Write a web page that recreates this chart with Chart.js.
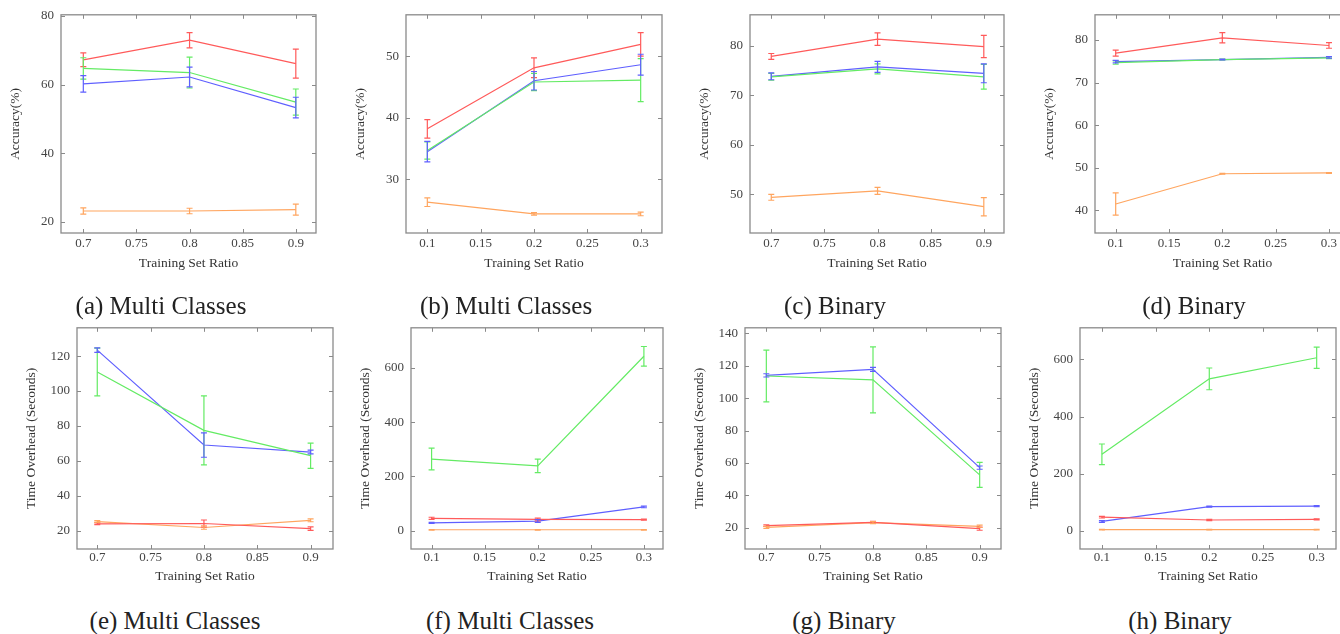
<!DOCTYPE html>
<html>
<head>
<meta charset="utf-8">
<script src="https://cdn.jsdelivr.net/npm/chart.js"></script>
<style>
  html, body { margin: 0; padding: 0; background: #fff; overflow: hidden; }
  body { width: 1340px; height: 634px; position: relative; }
  canvas { position: absolute; }
  .cap { position: absolute; width: 300px; text-align: center; font-family: 'Liberation Serif', 'DejaVu Serif', serif;
         font-size: 25px; line-height: 25px; color: #222; white-space: nowrap; }
</style>
</head>
<body>
<canvas id="pa"></canvas><canvas id="pb"></canvas><canvas id="pc"></canvas><canvas id="pd"></canvas>
<canvas id="pe"></canvas><canvas id="pf"></canvas><canvas id="pg"></canvas><canvas id="ph"></canvas>
<div class="cap" style="left:11px;top:293px">(a) Multi Classes</div>
<div class="cap" style="left:356px;top:293px">(b) Multi Classes</div>
<div class="cap" style="left:685px;top:293px">(c) Binary</div>
<div class="cap" style="left:1044px;top:293px">(d) Binary</div>
<div class="cap" style="left:25px;top:608px">(e) Multi Classes</div>
<div class="cap" style="left:360px;top:608px">(f) Multi Classes</div>
<div class="cap" style="left:694px;top:608px">(g) Binary</div>
<div class="cap" style="left:1030px;top:608px">(h) Binary</div>
<script>
// training set ratios
const ratioHigh = [0.7, 0.8, 0.9];
const ratioLow = [0.1, 0.2, 0.3];
const ticksHigh = [0.7, 0.75, 0.8, 0.85, 0.9];
const ticksLow = [0.1, 0.15, 0.2, 0.25, 0.3];

// series order in every panel: red, green, blue, orange
const accA = [[67.2, 72.9, 66.1], [64.7, 63.5, 54.9], [60.2, 62.2, 53.3], [23.2, 23.2, 23.6]];
const accAErr = [[2.0, 2.2, 4.2], [3.1, 4.5, 3.8], [2.4, 2.9, 3.0], [0.9, 0.8, 1.6]];
const accB = [[38.2, 48.1, 51.9], [34.7, 45.8, 46.1], [34.5, 46.0, 48.6], [26.3, 24.4, 24.4]];
const accBErr = [[1.5, 1.6, 1.9], [1.4, 1.4, 3.5], [1.65, 1.5, 1.7], [0.7, 0.2, 0.3]];
const accC = [[77.8, 81.3, 79.8], [73.7, 75.3, 73.7], [73.8, 75.7, 74.4], [49.4, 50.7, 47.5]];
const accCErr = [[0.6, 1.25, 2.25], [0.7, 1.0, 2.5], [0.7, 1.1, 1.9], [0.6, 0.7, 1.85]];
const accD = [[76.9, 80.5, 78.7], [74.7, 75.4, 75.8], [74.9, 75.4, 75.9], [41.5, 48.6, 48.8]];
const accDErr = [[0.7, 1.2, 0.65], [0.4, 0.1, 0.2], [0.3, 0.1, 0.2], [2.6, 0.1, 0.1]];

const timeE = [[24.0, 24.2, 21.3], [110.9, 77.5, 63.0], [123.4, 69.1, 65.1], [25.3, 21.9, 26.0]];
const timeEErr = [[0.5, 2.0, 1.0], [13.7, 19.7, 7.2], [1.3, 7.0, 1.1], [0.5, 1.0, 0.8]];
const timeF = [[46, 42, 41], [264, 239, 642], [29, 36, 88], [4, 4, 4]];
const timeFErr = [[4, 5, 2], [40, 25, 36], [2, 5, 3], [1, 1, 1]];
const timeG = [[21.2, 23.3, 19.4], [113.7, 111.3, 52.6], [114.1, 117.8, 57.1], [20.2, 23.1, 20.8]];
const timeGErr = [[0.5, 0.6, 1.0], [16, 20.4, 7.7], [1.0, 1.2, 1.0], [0.6, 0.6, 0.7]];
const timeH = [[48, 38, 40], [268, 532, 606], [33, 85, 86.5], [4, 4, 4]];
const timeHErr = [[3, 2, 2], [36, 38, 37], [3, 2, 2], [1, 1, 1]];

const accTicksA = [20, 40, 60, 80];
const accTicksB = [30, 40, 50];
const accTicksC = [50, 60, 70, 80];
const accTicksD = [40, 50, 60, 70, 80];
const timeTicksE = [20, 40, 60, 80, 100, 120];
const timeTicksF = [0, 200, 400, 600];
const timeTicksG = [20, 40, 60, 80, 100, 120, 140];
const timeTicksH = [0, 200, 400, 600];

const seriesColors = ['rgb(255,90,90)', 'rgb(100,235,100)', 'rgb(95,95,255)', 'rgb(255,165,95)'];
const seriesNames = ['Series 1', 'Series 2', 'Series 3', 'Series 4'];

const serif = "'Liberation Serif', 'DejaVu Serif', serif";
const Y_AXIS_W = 58;
const PAD = 12;

// frame + inward ticks on all four sides
const framePlugin = {
  id: 'frame',
  afterDraw(chart) {
    const { ctx, chartArea: a, scales } = chart;
    ctx.save();
    ctx.strokeStyle = '#8a8a8a';
    ctx.lineWidth = 1;
    ctx.beginPath();
    scales.x.ticks.forEach(t => {
      const px = Math.round(scales.x.getPixelForValue(t.value)) + 0.5;
      ctx.moveTo(px, a.bottom); ctx.lineTo(px, a.bottom - 4);
      ctx.moveTo(px, a.top); ctx.lineTo(px, a.top + 4);
    });
    scales.y.ticks.forEach(t => {
      const py = Math.round(scales.y.getPixelForValue(t.value)) + 0.5;
      ctx.moveTo(a.left, py); ctx.lineTo(a.left + 4, py);
      ctx.moveTo(a.right, py); ctx.lineTo(a.right - 4, py);
    });
    ctx.stroke();
    ctx.lineWidth = 1.3;
    ctx.strokeRect(a.left, a.top, a.right - a.left, a.bottom - a.top);
    ctx.restore();
  }
};

const errorBarPlugin = {
  id: 'errorBars',
  afterDatasetsDraw(chart) {
    const { ctx, scales: { x, y } } = chart;
    chart.data.datasets.forEach(ds => {
      ctx.save();
      ctx.strokeStyle = ds.borderColor;
      ctx.lineWidth = 1.2;
      ds.data.forEach((p, i) => {
        const e = ds.errors[i];
        const px = x.getPixelForValue(p.x);
        const top = y.getPixelForValue(p.y + e);
        const bot = y.getPixelForValue(p.y - e);
        ctx.beginPath();
        ctx.moveTo(px, top); ctx.lineTo(px, bot);
        ctx.moveTo(px - 3, top); ctx.lineTo(px + 3, top);
        ctx.moveTo(px - 3, bot); ctx.lineTo(px + 3, bot);
        ctx.stroke();
      });
      ctx.restore();
    });
  }
};

function makePanel(id, box, xs, xTicks, xRange, means, errs, yTicks, yRange, yTitle, xAxisH, tickPad) {
  const cv = document.getElementById(id);
  const w = (box.r - box.l) + Y_AXIS_W + PAD;
  const h = (box.b - box.t) + PAD + xAxisH;
  cv.width = w; cv.height = h;
  cv.style.left = (box.l - Y_AXIS_W) + 'px';
  cv.style.top = (box.t - PAD) + 'px';
  cv.style.width = w + 'px'; cv.style.height = h + 'px';

  const datasets = means.map((vals, k) => ({
    label: seriesNames[k],
    data: xs.map((x, i) => ({ x: x, y: vals[i] })),
    errors: errs[k],
    borderColor: seriesColors[k],
    borderWidth: 1.2,
    pointRadius: 0,
    tension: 0,
    fill: false
  }));

  return new Chart(cv.getContext('2d'), {
    type: 'line',
    data: { datasets: datasets },
    options: {
      responsive: false,
      animation: false,
      devicePixelRatio: 1,
      layout: { padding: { top: PAD, right: PAD, left: 0, bottom: 0 } },
      plugins: { legend: { display: false }, tooltip: { enabled: false } },
      scales: {
        x: {
          type: 'linear',
          min: xRange[0], max: xRange[1],
          afterBuildTicks: s => { s.ticks = xTicks.map(v => ({ value: v })); },
          afterFit: s => { s.height = xAxisH; },
          grid: { display: false, drawTicks: false },
          border: { display: false },
          ticks: { color: '#444', padding: tickPad, font: { family: serif, size: 13 },
                   callback: v => String(v) },
          title: { display: true, text: 'Training Set Ratio', color: '#333',
                   font: { family: serif, size: 13.5 }, padding: { top: 4, bottom: 4 } }
        },
        y: {
          type: 'linear',
          min: yRange[0], max: yRange[1],
          afterBuildTicks: s => { s.ticks = yTicks.map(v => ({ value: v })); },
          afterFit: s => { s.width = Y_AXIS_W; },
          grid: { display: false, drawTicks: false },
          border: { display: false },
          ticks: { color: '#444', padding: 7, font: { family: serif, size: 13 },
                   callback: v => String(v) },
          title: { display: true, text: yTitle, color: '#333',
                   font: { family: serif, size: 13.5 }, padding: { top: 4, bottom: 4 } }
        }
      }
    },
    plugins: [errorBarPlugin, framePlugin]
  });
}

const accTitle = 'Accuracy(%)';
const timeTitle = 'Time Overhead (Seconds)';

makePanel('pa', { l: 61, t: 12, r: 316, b: 233 }, ratioHigh, ticksHigh, [0.679, 0.919], accA, accAErr, accTicksA, [16.8, 80.3], accTitle, 43, 3);
makePanel('pb', { l: 406, t: 12, r: 662, b: 233 }, ratioLow, ticksLow, [0.080, 0.320], accB, accBErr, accTicksB, [21.3, 56.7], accTitle, 43, 3);
makePanel('pc', { l: 750, t: 12, r: 1004, b: 233 }, ratioHigh, ticksHigh, [0.680, 0.919], accC, accCErr, accTicksC, [42.2, 86.2], accTitle, 43, 3);
makePanel('pd', { l: 1095, t: 12, r: 1350, b: 233 }, ratioLow, ticksLow, [0.0806, 0.3197], accD, accDErr, accTicksD, [34.7, 85.9], accTitle, 43, 3);

makePanel('pe', { l: 77, t: 325, r: 333, b: 549 }, ratioHigh, ticksHigh, [0.681, 0.921], timeE, timeEErr, timeTicksE, [9.6, 136.2], timeTitle, 40, 1);
makePanel('pf', { l: 411, t: 325, r: 663, b: 549 }, ratioLow, ticksLow, [0.0806, 0.318], timeF, timeFErr, timeTicksF, [-66.7, 746.7], timeTitle, 40, 1);
makePanel('pg', { l: 745, t: 325, r: 1001, b: 549 }, ratioHigh, ticksHigh, [0.680, 0.920], timeG, timeGErr, timeTicksG, [6.8, 143.5], timeTitle, 40, 1);
makePanel('ph', { l: 1080, t: 325, r: 1336, b: 549 }, ratioLow, ticksLow, [0.0796, 0.318], timeH, timeHErr, timeTicksH, [-63.5, 710.8], timeTitle, 40, 1);
</script>
</body>
</html>
